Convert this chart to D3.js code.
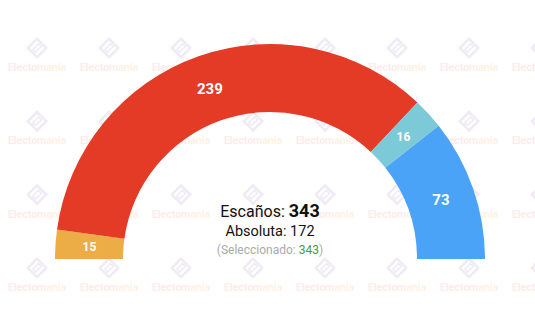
<!DOCTYPE html>
<html>
<head>
<meta charset="utf-8">
<script src="https://cdn.jsdelivr.net/npm/d3@7"></script>
<style>
  body { margin: 0; background: #fff; }
  svg { display: block; font-family: Roboto, "Noto Sans", sans-serif; }
</style>
</head>
<body>
<svg id="chart"></svg>
<script>
// seats per party, left to right
var parties = ["A", "B", "C", "D"];
var seats = [15, 239, 16, 73];
var colors = ["#ecad46", "#e43b27", "#7ccad7", "#4aa3f6"];
var totalSeats = 343;
var majority = 172;
var selected = 343;

var svgWidth = 535, svgHeight = 320;
var cx = 270, cy = 259;
var outerR = 215, innerR = 147;

var svg = d3.select("#chart")
    .attr("width", svgWidth)
    .attr("height", svgHeight);

// watermark grid in the background
var wm = svg.append("g");
var wmCols = d3.range(8).map(function(i) { return 37 + i * 72; });
var wmRows = d3.range(4).map(function(i) { return 67 + i * 73.3; });
wmRows.forEach(function(ry) {
    wmCols.forEach(function(rx) {
        var logo = wm.append("g").attr("transform", "translate(" + rx + "," + (ry - 19) + ") rotate(45)");
        logo.append("rect")
            .attr("x", -6.5).attr("y", -6.5).attr("width", 13).attr("height", 13)
            .attr("fill", "none").attr("stroke", "#efeaf4").attr("stroke-width", 2.5);
        logo.append("rect")
            .attr("x", -2).attr("y", -4).attr("width", 4).attr("height", 8)
            .attr("fill", "none").attr("stroke", "#efeaf4").attr("stroke-width", 1.5);
        var t = wm.append("text")
            .attr("x", rx).attr("y", ry + 4)
            .attr("text-anchor", "middle")
            .style("font-size", "10.5px")
            .style("font-weight", "bold");
        t.append("tspan").attr("fill", "#fcecec").text("Electom");
        t.append("tspan").attr("fill", "#fdf2e3").text("ania");
    });
});

// half donut
var pie = d3.pie()
    .sort(null)
    .startAngle(-Math.PI / 2)
    .endAngle(Math.PI / 2);

var arc = d3.arc()
    .innerRadius(innerR)
    .outerRadius(outerR);

var arcs = pie(seats);

var g = svg.append("g")
    .attr("transform", "translate(" + cx + "," + cy + ")");

g.selectAll("path")
    .data(arcs)
    .enter().append("path")
    .attr("d", arc)
    .attr("fill", function(d, i) { return colors[i]; });

g.selectAll("text.lbl")
    .data(arcs)
    .enter().append("text")
    .attr("class", "lbl")
    .attr("transform", function(d) { return "translate(" + arc.centroid(d) + ")"; })
    .attr("text-anchor", "middle")
    .attr("dy", "0.35em")
    .attr("fill", "#fff")
    .style("font-weight", "bold")
    .style("font-size", function(d) { return d.value < 20 ? "12px" : "15px"; })
    .text(function(d) { return d.value; });

// center texts
var t1 = svg.append("text")
    .attr("x", cx).attr("y", 217)
    .attr("text-anchor", "middle")
    .attr("fill", "#111")
    .style("font-size", "16px");
t1.append("tspan").text("Escaños: ");
t1.append("tspan").style("font-weight", "bold").style("font-size", "18px").text(totalSeats);

svg.append("text")
    .attr("x", cx).attr("y", 236)
    .attr("text-anchor", "middle")
    .attr("fill", "#111")
    .style("font-size", "14.5px")
    .text("Absoluta: " + majority);

var t3 = svg.append("text")
    .attr("x", cx).attr("y", 254)
    .attr("text-anchor", "middle")
    .attr("fill", "#aaaaaa")
    .style("font-size", "12px");
t3.append("tspan").text("(Seleccionado: ");
t3.append("tspan").attr("fill", "#4a9a3c").text(selected);
t3.append("tspan").text(")");
</script>
</body>
</html>
